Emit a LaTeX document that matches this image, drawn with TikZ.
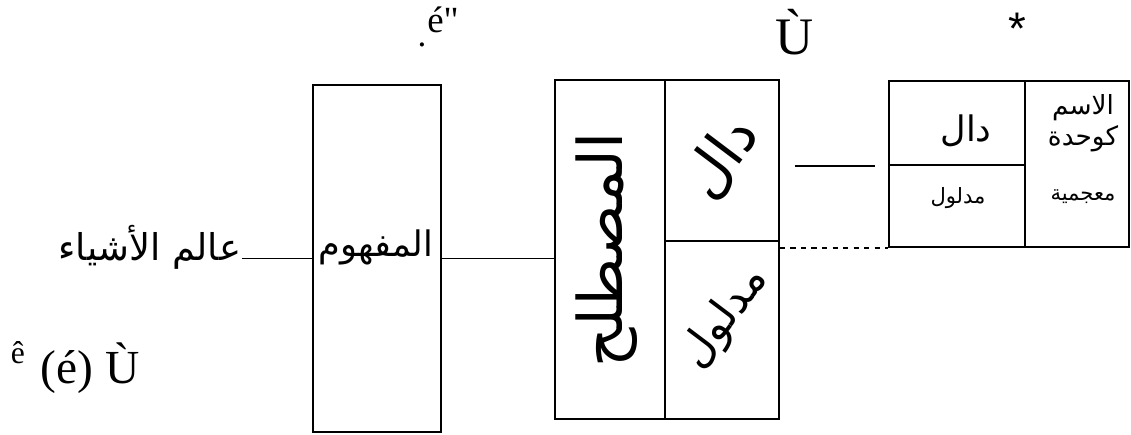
\documentclass[tikz,border=0pt]{standalone}
\usepackage{fontspec}
\setmainfont{Liberation Serif}
\newfontfamily\rawserif{Liberation Serif}
\newfontfamily\arabicfont[Script=Arabic]{DejaVu Sans}
\newfontfamily\starfont{Liberation Sans}
\TeXXeTstate=1
\newcommand{\artxt}[1]{\arabicfont\beginR #1\endR}

\begin{document}
\begin{tikzpicture}[x=0.02cm, y=-0.02cm, line width=0.9pt,
  cell/.style n args={2}{draw, inner sep=0pt, minimum width=#1*0.02cm, minimum height=#2*0.02cm},
  word/.style={inner sep=0pt, font=\fontsize{#1}{#1}\selectfont}]
\useasboundingbox (0,0) rectangle (1131,434);

\node[cell={128}{347}] (mafhoom) at (377,258.5) {};
\node[cell={110}{339}] (mustalah) at (610,249.5) {};
\node[cell={114}{161}] (dalCell) at (722,160.5) {};
\node[cell={114}{178}] (madlulCell) at (722,330) {};
\node[cell={136}{84}] (rDal) at (957,123) {};
\node[cell={136}{82}] (rMadlul) at (957,206) {};
\node[cell={104}{166}] (ism) at (1077,164) {};

\node[word=21, anchor=east] (ashya) at (242,247) {\artxt{عالم الأشياء}};
\node[word=20] (mafhoomTxt) at (376,247) {\artxt{المفهوم}};
\node[word=35, rotate=90] (mustalahTxt) at (607,250) {\artxt{المصطلح}};
\node[word=33, rotate=53] (dalTxt) at (722,158) {\artxt{دال}};
\node[word=25, rotate=53] (madlulTxt) at (725,318) {\artxt{مدلول}};
\node[word=20] (rDalTxt) at (966,131) {\artxt{دال}};
\node[word=12] (rMadlulTxt) at (958,198) {\artxt{مدلول}};
\node[word=15] (ismTxt) at (1083,108) {\artxt{الاسم}};
\node[word=15] (kawahdaTxt) at (1083,139) {\artxt{كوحدة}};
\node[word=12] (muajamTxt) at (1083,197) {\artxt{معجمية}};

\node[word=20] (dotA) at (422,45) {.};
\node[word=21] (eAcute) at (443,20) {\rawserif é"};
\node[word=30] (uGrave) at (795,32) {Ù};
\node[word=26, font=\starfont\fontsize{26}{26}\selectfont] (star) at (1017,29) {*};
\node[word=18] (eCirc) at (18,353) {ê};
\node[word=27] (bottomTxt) at (90,368) {(é) Ù};

\draw (ashya.east |- mafhoom.west) -- (mafhoom.west);
\draw (mafhoom.east) -- (mafhoom.east -| mustalah.west);
\draw ([xshift=0.3cm]dalCell.east |- rDal.south) -- ([xshift=-0.26cm]rDal.south west);
\draw[dashed] (rMadlul.south west -| madlulCell.east) -- (rMadlul.south west);
\end{tikzpicture}
\end{document}
